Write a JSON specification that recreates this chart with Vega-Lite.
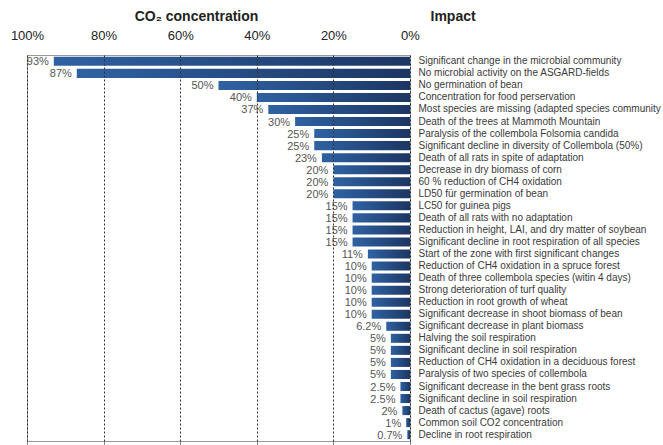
{
  "$schema": "https://vega.github.io/schema/vega-lite/v6.json",
  "autosize": "none",
  "width": 383,
  "height": 386,
  "padding": {"left": 27, "top": 55, "right": 253, "bottom": 4},
  "background": "white",
  "config": {
    "font": "Liberation Sans",
    "view": {"stroke": "#9a9a9a", "strokeWidth": 1}
  },
  "data": {
    "values": [
      {"impact": "Significant change in the microbial community", "value": 0.93},
      {"impact": "No microbial activity on the ASGARD-fields", "value": 0.87},
      {"impact": "No germination of bean", "value": 0.50},
      {"impact": "Concentration for food perservation", "value": 0.40},
      {"impact": "Most species are missing (adapted species community", "value": 0.37},
      {"impact": "Death of the trees at Mammoth Mountain", "value": 0.30},
      {"impact": "Paralysis of the collembola  Folsomia candida", "value": 0.25},
      {"impact": "Significant decline in diversity of Collembola (50%)", "value": 0.25},
      {"impact": "Death of all rats in spite of adaptation", "value": 0.23},
      {"impact": "Decrease in dry biomass of corn", "value": 0.20},
      {"impact": "60 % reduction of CH4 oxidation", "value": 0.20},
      {"impact": "LD50 für germination of bean", "value": 0.20},
      {"impact": "LC50 for guinea pigs", "value": 0.15},
      {"impact": "Death of all rats with no adaptation", "value": 0.15},
      {"impact": "Reduction in height, LAI, and dry matter of soybean", "value": 0.15},
      {"impact": "Significant decline in root respiration of all species", "value": 0.15},
      {"impact": "Start of the zone with first significant changes", "value": 0.11},
      {"impact": "Reduction of CH4 oxidation in a spruce forest", "value": 0.10},
      {"impact": "Death of three collembola species (witin 4 days)", "value": 0.10},
      {"impact": "Strong deterioration  of turf quality", "value": 0.10},
      {"impact": "Reduction in root growth of wheat", "value": 0.10},
      {"impact": "Significant decrease in shoot biomass of bean", "value": 0.10},
      {"impact": "Significant decrease in plant biomass", "value": 0.062},
      {"impact": "Halving the soil respiration", "value": 0.05},
      {"impact": "Significant decline in soil respiration", "value": 0.05},
      {"impact": "Reduction of CH4 oxidation in a deciduous  forest", "value": 0.05},
      {"impact": "Paralysis of two species of collembola", "value": 0.05},
      {"impact": "Significant decrease in the bent grass roots", "value": 0.025},
      {"impact": "Significant decline in soil respiration ", "value": 0.025},
      {"impact": "Death of cactus (agave) roots", "value": 0.02},
      {"impact": "Common soil CO2 concentration", "value": 0.01},
      {"impact": "Decline in root respiration", "value": 0.007}
    ]
  },
  "encoding": {
    "y": {
      "field": "impact",
      "type": "nominal",
      "sort": null,
      "scale": {"paddingInner": 0.25, "paddingOuter": 0.15},
      "axis": {
        "orient": "right",
        "title": "Impact",
        "titleAngle": 0,
        "titleAlign": "left",
        "titleBaseline": "alphabetic",
        "titleX": 20,
        "titleY": -35,
        "titleFontSize": 14,
        "titleFontWeight": "bold",
        "titleColor": "#222",
        "ticks": false,
        "domain": false,
        "labelPadding": 8,
        "labelFontSize": 10,
        "labelColor": "#3a3a3a",
        "labelLimit": 260
      }
    },
    "x": {
      "field": "value",
      "type": "quantitative",
      "scale": {"domain": [0, 1], "reverse": true, "nice": false}
    }
  },
  "layer": [
    {
      "mark": {
        "type": "bar",
        "color": {
          "gradient": "linear",
          "x1": 0, "x2": 1, "y1": 0, "y2": 0,
          "stops": [
            {"offset": 0, "color": "#2f62a3"},
            {"offset": 1, "color": "#1c3663"}
          ]
        }
      },
      "encoding": {
        "x": {
          "field": "value",
          "type": "quantitative",
          "scale": {"domain": [0, 1], "reverse": true, "nice": false},
          "axis": {
            "orient": "top",
            "zindex": 1,
            "values": [0, 0.2, 0.4, 0.6, 0.8, 1],
            "format": ".0%",
            "title": "CO₂ concentration",
            "titleX": 169,
            "titleY": -35,
            "titleBaseline": "alphabetic",
            "titleFontSize": 14,
            "titleFontWeight": "bold",
            "titleColor": "#222",
            "labelFontSize": 13,
            "labelColor": "#222",
            "labelPadding": 13,
            "ticks": false,
            "domain": false,
            "grid": true,
            "gridColor": "#333",
            "gridDash": [2, 2],
            "gridWidth": 1,
            "labelFlush": false
          }
        }
      }
    },
    {
      "mark": {
        "type": "text",
        "align": "right",
        "baseline": "middle",
        "dx": -5,
        "dy": 1,
        "fontSize": 11,
        "color": "#555"
      },
      "encoding": {
        "x": {
          "field": "value",
          "type": "quantitative",
          "scale": {"domain": [0, 1], "reverse": true, "nice": false},
          "axis": {
            "orient": "bottom",
            "values": [0, 0.2, 0.4, 0.6, 0.8, 1],
            "labels": false,
            "title": null,
            "ticks": true,
            "tickSize": 5,
            "tickColor": "#888",
            "domain": false,
            "grid": false
          }
        },
        "text": {"field": "value", "type": "quantitative", "format": ".1~%"}
      }
    }
  ],
  "resolve": {"axis": {"x": "independent"}}
}
